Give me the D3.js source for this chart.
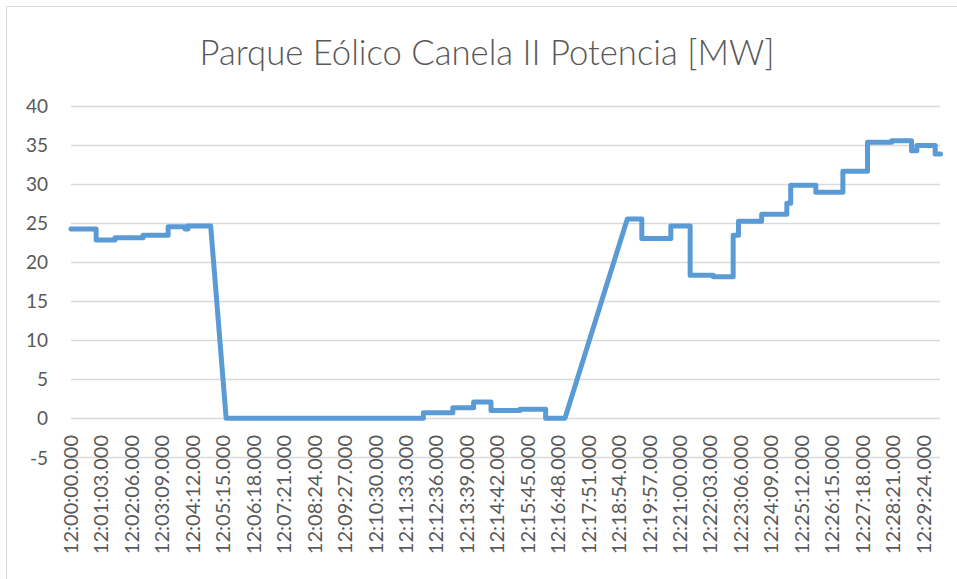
<!DOCTYPE html>
<html>
<head>
<meta charset="utf-8">
<script src="https://cdn.jsdelivr.net/npm/d3@7"></script>
<style>
    body { margin: 0; background: #fff; }
    text { font-family: Lato, "Open Sans", sans-serif; fill: #595959; }
</style>
</head>
<body>
<svg id="chart" width="957" height="579"></svg>
<script>
// seconds after 12:00:00 and power [MW]
const segundos = [
    0, 52, 52, 91, 91, 149, 149, 201, 201, 236, 236, 242, 242, 289,
    321, 729, 729, 790, 790, 833, 833, 869, 869, 929, 929, 982, 982, 1022,
    1151, 1181, 1181, 1241, 1241, 1281, 1281, 1329, 1329, 1370, 1370, 1381, 1381,
    1429, 1429, 1481, 1481, 1489, 1489, 1541, 1541, 1597, 1597, 1648, 1648,
    1698, 1698, 1739, 1739, 1750, 1750, 1788, 1788, 1799
];
const potenciaMW = [
    24.2, 24.2, 22.8, 22.8, 23.1, 23.1, 23.4, 23.4, 24.5, 24.5, 24.2, 24.2, 24.6, 24.6,
    0, 0, 0.7, 0.7, 1.35, 1.35, 2.1, 2.1, 1.0, 1.0, 1.15, 1.15, 0, 0,
    25.5, 25.5, 23.0, 23.0, 24.6, 24.6, 18.3, 18.3, 18.1, 18.1, 23.4, 23.4, 25.2,
    25.2, 26.1, 26.1, 27.5, 27.5, 29.8, 29.8, 28.9, 28.9, 31.6, 31.6, 35.3,
    35.3, 35.5, 35.5, 34.2, 34.2, 34.9, 34.9, 33.8, 33.8
];

const yTicks = [-5, 0, 5, 10, 15, 20, 25, 30, 35, 40];
const xTickLabels = [
    "12:00:00.000", "12:01:03.000", "12:02:06.000", "12:03:09.000", "12:04:12.000",
    "12:05:15.000", "12:06:18.000", "12:07:21.000", "12:08:24.000", "12:09:27.000",
    "12:10:30.000", "12:11:33.000", "12:12:36.000", "12:13:39.000", "12:14:42.000",
    "12:15:45.000", "12:16:48.000", "12:17:51.000", "12:18:54.000", "12:19:57.000",
    "12:21:00.000", "12:22:03.000", "12:23:06.000", "12:24:09.000", "12:25:12.000",
    "12:26:15.000", "12:27:18.000", "12:28:21.000", "12:29:24.000"
];
const xTickSeconds = xTickLabels.map((d, i) => i * 63);

const titulo = "Parque Eólico Canela II Potencia [MW]";

let svg = d3.select('#chart');

// outer chart frame
svg.append('rect')
    .attr('x', 6.5).attr('y', 6.5)
    .attr('width', 1000).attr('height', 1000)
    .attr('fill', 'none')
    .attr('stroke', '#d9d9d9');

let x = d3.scaleLinear().domain([0, 1800]).range([71, 941]);
let y = d3.scaleLinear().domain([-5, 40]).range([457.4, 105.5]);

// gridlines
svg.append('g').selectAll('line')
    .data(yTicks)
    .join('line')
    .attr('x1', 71).attr('x2', 940)
    .attr('y1', d => Math.round(y(d)) + 0.5)
    .attr('y2', d => Math.round(y(d)) + 0.5)
    .attr('stroke', '#d9d9d9')
    .attr('stroke-width', 1.3);

// y labels (plain hyphen for -5, like the original)
let yAxis = d3.axisLeft(y).tickValues(yTicks).tickFormat(d => String(d)).tickSize(0).tickPadding(0);
let yg = svg.append('g').attr('transform', 'translate(48,0)').call(yAxis);
yg.select('.domain').remove();
yg.selectAll('text').attr('font-size', 19).attr('dy', '0.35em').attr('fill', '#595959');

// x labels, rotated
svg.append('g').selectAll('text')
    .data(xTickSeconds)
    .join('text')
    .attr('transform', d => `translate(${x(d) + 7},435) rotate(-90)`)
    .attr('text-anchor', 'end')
    .attr('font-size', 20)
    .text((d, i) => xTickLabels[i]);

// series line
let line = d3.line()
    .x((d, i) => x(segundos[i]))
    .y(d => y(d));

svg.append('path')
    .datum(potenciaMW)
    .attr('d', line)
    .attr('fill', 'none')
    .attr('stroke', '#5b9bd5')
    .attr('stroke-width', 5)
    .attr('stroke-linejoin', 'round')
    .attr('stroke-linecap', 'round');

// title, fitted to the width it has in the picture
let title = svg.append('text')
    .attr('x', 487).attr('y', 65)
    .attr('text-anchor', 'middle')
    .attr('font-size', 30)
    .attr('font-weight', 300)
    .text(titulo);
let w = title.node().getComputedTextLength();
title.attr('font-size', 30 * 575 / w);
</script>
</body>
</html>
